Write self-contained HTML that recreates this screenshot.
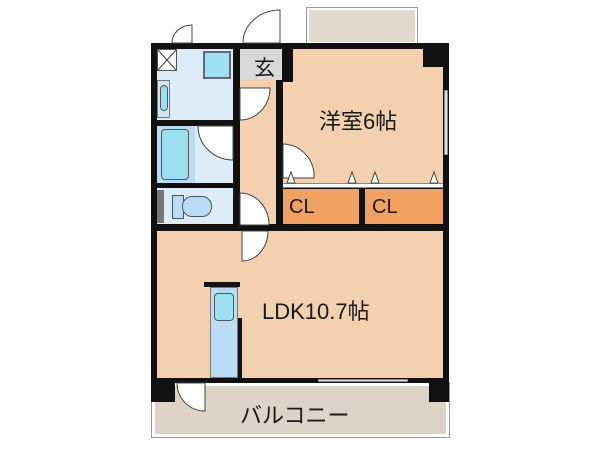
<!DOCTYPE html>
<html><head><meta charset="utf-8"><style>
body{margin:0;width:600px;height:450px;background:#fff;position:relative;overflow:hidden;font-family:"Liberation Sans","Noto Sans CJK JP",sans-serif}
div{position:absolute;box-sizing:border-box}
.k{background:#111}
.t{color:#1a1a1a;font-size:22px;white-space:nowrap}
svg{position:absolute;left:0;top:0}
</style></head><body>
<div style="left:307px;top:8px;width:110px;height:36px;background:#e3d9cf;border:2px solid #fff;outline:1px solid #999"></div>
<div style="left:152px;top:383px;width:297px;height:54px;background:#ddd3c9;border:3px solid #fff;outline:1px solid #999"></div>
<div class="k" style="left:151px;top:43px;width:298px;height:6px"></div>
<div class="k" style="left:151px;top:43px;width:6px;height:345px"></div>
<div class="k" style="left:443px;top:43px;width:6px;height:345px"></div>
<div class="k" style="left:151px;top:378px;width:298px;height:5px"></div>
<div class="k" style="left:151px;top:378px;width:24px;height:24px"></div>
<div class="k" style="left:429px;top:378px;width:20px;height:24px"></div>
<div style="left:283px;top:49px;width:160px;height:135px;background:#f2d0b0"></div>
<div class="k" style="left:423px;top:49px;width:20px;height:18px"></div>
<div class="k" style="left:276px;top:49px;width:7px;height:180px"></div>
<div class="k" style="left:276px;top:49px;width:17px;height:33px"></div>
<div style="left:240px;top:49px;width:42px;height:31px;background:#d9d9d9"></div>
<div class="t" style="left:254px;top:52px;font-size:21px">玄</div>
<div class="k" style="left:276px;top:183px;width:173px;height:47px"></div>
<div style="left:283px;top:189px;width:76px;height:35px;background:#f0a060"></div>
<div style="left:365px;top:189px;width:78px;height:35px;background:#f0a060"></div>
<div style="left:283px;top:183px;width:160px;height:5px;background:#fff;border-top:1px solid #888;border-bottom:1px solid #888"></div>
<div class="t" style="left:289px;top:196px;font-size:20px">CL</div>
<div class="t" style="left:372px;top:196px;font-size:20px">CL</div>
<div style="left:240px;top:80px;width:36px;height:145px;background:#f2d0b0"></div>
<div class="k" style="left:233px;top:49px;width:7px;height:180px"></div>
<div style="left:157px;top:49px;width:76px;height:71px;background:#dcedf9"></div>
<div style="left:157px;top:49px;width:20px;height:22px;background:#fff;border:1px solid #555"></div>
<div style="left:203px;top:51px;width:28px;height:28px;background:#9ee0f2;border:2px solid #667"></div>
<div style="left:157px;top:80px;width:13px;height:38px;background:#cfe6f5;border:1px solid #777"></div>
<div style="left:160px;top:85px;width:8px;height:26px;background:#9ee0f2;border:1px solid #555;border-radius:4px"></div>
<div class="k" style="left:157px;top:120px;width:80px;height:6px"></div>
<div style="left:157px;top:126px;width:76px;height:57px;background:#dcedf9"></div>
<div style="left:157px;top:126px;width:38px;height:57px;background:#b8dcf6"></div>
<div style="left:161px;top:129px;width:28px;height:51px;background:#9ee0f2;border:1px solid #555;border-radius:4px"></div>
<div class="k" style="left:157px;top:183px;width:80px;height:5px"></div>
<div style="left:157px;top:188px;width:76px;height:37px;background:#dcedf9"></div>
<div style="left:157px;top:190px;width:7px;height:33px;background:#777"></div>
<div style="left:172px;top:195px;width:12px;height:24px;background:#b8dcf6;border:1px solid #555"></div>
<div style="left:182px;top:196px;width:30px;height:21px;background:#b8dcf6;border:1px solid #555;border-radius:10px"></div>
<div class="k" style="left:151px;top:224px;width:298px;height:7px"></div>
<div style="left:157px;top:231px;width:286px;height:147px;background:#f2d0b0"></div>
<div class="k" style="left:204px;top:282px;width:36px;height:5px"></div>
<div class="k" style="left:237px;top:318px;width:5px;height:60px"></div>
<div style="left:210px;top:287px;width:28px;height:91px;background:#bcdcf6;border:1px solid #777"></div>
<div style="left:214px;top:293px;width:20px;height:28px;background:#9ee0f2;border:1px solid #555;border-radius:4px"></div>
<div class="t" style="left:262px;top:294px">LDK10.7帖</div>
<div class="t" style="left:319px;top:104px">洋室6帖</div>
<div class="t" style="left:240px;top:398px">バルコニー</div>
<div style="left:318px;top:379px;width:90px;height:3px;background:#ddd;border:1px solid #888"></div>
<div style="left:444px;top:90px;width:4px;height:65px;background:#ddd;border:1px solid #888"></div>
<svg width="600" height="450">
<g fill="#fff" stroke="#444" stroke-width="1">
<line x1="158" y1="50" x2="176" y2="70"/><line x1="176" y1="50" x2="158" y2="70"/>
<path d="M280 10 L280 43 L243 43 A37 33 0 0 1 280 10 Z"/>
<path d="M192 25 L192 43 L172 43 A20 18 0 0 1 192 25 Z"/>
<path d="M240 88 L270 88 A30 32 0 0 1 240 120 Z"/>
<path d="M198 126 L233 126 L233 160 A35 34 0 0 1 198 126 Z"/>
<path d="M240 193 L240 225 L269 225 A29 32 0 0 0 240 193 Z"/>
<path d="M242 231 L268 231 A26 30 0 0 1 242 261 Z"/>
<path d="M283 144 A32 32 0 0 1 314 178 L283 178 Z"/>
<path d="M177 383 L205 383 L205 411 A28 28 0 0 1 177 383 Z"/>
<path d="M287 183 L291 172 L295 183 Z"/><path d="M348 183 L352 172 L356 183 Z"/>
<path d="M371 183 L375 172 L379 183 Z"/><path d="M430 183 L434 172 L438 183 Z"/>
</g>
</svg>
</body></html>
